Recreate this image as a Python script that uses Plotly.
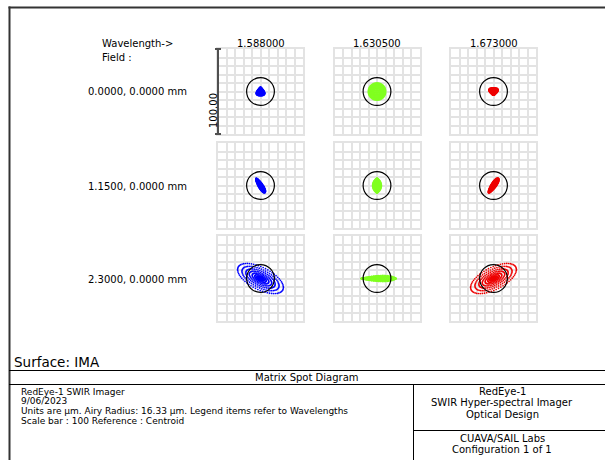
import numpy as np
import plotly.graph_objects as go

W, H = 605, 460
FONT = "DejaVu Sans"

# ---- data -----------------------------------------------------------------
WAVELENGTHS = ["1.588000", "1.630500", "1.673000"]          # µm
WAVE_COLORS = ["#0000ff", "#80ff20", "#ee0000"]
FIELDS = ["0.0000, 0.0000 mm", "1.1500, 0.0000 mm", "2.3000, 0.0000 mm"]
AIRY_RADIUS = 16.33      # µm
SCALE_BAR = 100.0        # µm, full box width
GRID_STEP = 10.0         # µm
PUPIL_RINGS = 10         # hexapolar ray rings

# spot shape per field (rows) x wavelength (columns); lengths in µm, angles in deg
SPOT_A = [[5.0, 10.2, 4.4], [9.8, 8.6, 10.2], [29.5, 20.5, 29.5]]      # semi-axis along tilt
SPOT_B = [[4.4, 10.2, 4.8], [2.7, 5.2, 3.0], [13.0, 3.4, 13.0]]        # semi-axis across tilt
SPOT_TILT = [[-90, 0, 90], [-58, 90, 56], [-27, 0, 27]]
SPOT_EGG = [[0.6, 0.0, 0.6], [0.2, 0.0, 0.2], [0.0, 0.4, 0.0]]
SPOT_COMA = [[0.0, 0.0, 0.0], [0.0, 0.0, 0.0], [0.0, 4.2, 0.0]]
SPOT_POWER = [[1.0, 0.9, 1.0], [1.0, 1.0, 1.0], [2.0, 1.0, 2.0]]
SPOT_PINCH = [[1.0, 1.0, 1.0], [1.0, 1.6, 1.0], [1.0, 1.4, 1.0]]

TITLE_LEFT = ["RedEye-1 SWIR Imager", "9/06/2023",
              "Units are µm. Airy Radius: 16.33 µm. Legend items refer to Wavelengths",
              "Scale bar : 100 Reference : Centroid"]
TITLE_RIGHT_TOP = ["RedEye-1", "SWIR Hyper-spectral Imager", "Optical Design"]
TITLE_RIGHT_BOTTOM = ["CUAVA/SAIL Labs", "Configuration 1 of 1"]

# ---- page geometry (pixels) ---------------------------------------------
COL_CX = [260.5, 377.0, 493.5]
ROW_CY = [91.5, 185.5, 278.5]
BOX = 85.0


def px(x):
    return x / W


def py(y):
    return 1 - y / H


def pupil(n):
    rho, th = [0.0], [0.0]
    for k in range(1, n + 1):
        m = 6 * k
        rho += [k / n] * m
        th += list(np.arange(m) * 2 * np.pi / m)
    return np.array(rho), np.array(th)


RHO, THETA = pupil(PUPIL_RINGS)


def spot(a, b, tilt, egg, coma, power, pinch):
    s = np.sin(THETA)
    u = a * RHO ** power * np.cos(THETA) + coma * RHO ** 2
    v = b * RHO ** power * np.sign(s) * np.abs(s) ** pinch * (1 + egg * np.cos(THETA))
    ang = np.radians(tilt)
    x = u * np.cos(ang) - v * np.sin(ang)
    y = u * np.sin(ang) + v * np.cos(ang)
    return x - x.mean(), y - y.mean()


fig = go.Figure()
layout = dict(width=W, height=H, margin=dict(l=0, r=0, t=0, b=0),
              paper_bgcolor="white", plot_bgcolor="white", showlegend=False,
              font=dict(family=FONT, size=10, color="black"))
shapes, annotations = [], []
half = SCALE_BAR / 2

k = 0
for r in range(3):
    for c in range(3):
        k += 1
        sx = "" if k == 1 else str(k)
        x0, x1 = COL_CX[c] - BOX / 2, COL_CX[c] + BOX / 2
        y0, y1 = ROW_CY[r] - BOX / 2, ROW_CY[r] + BOX / 2
        ax = dict(range=[-half, half], showgrid=True, gridcolor="#e3e3e3", gridwidth=1.6,
                  tick0=0, dtick=GRID_STEP, showticklabels=False, ticks="",
                  zeroline=False, showline=True, linecolor="#e3e3e3", linewidth=1.6,
                  mirror=True, fixedrange=True)
        layout["xaxis" + sx] = dict(ax, domain=[px(x0), px(x1)], anchor="y" + sx)
        layout["yaxis" + sx] = dict(ax, domain=[py(y1), py(y0)], anchor="x" + sx)
        xs, ys = spot(SPOT_A[r][c], SPOT_B[r][c], SPOT_TILT[r][c], SPOT_EGG[r][c],
                      SPOT_COMA[r][c], SPOT_POWER[r][c], SPOT_PINCH[r][c])
        fig.add_trace(go.Scatter(x=xs, y=ys, mode="markers", xaxis="x" + sx, yaxis="y" + sx,
                                 marker=dict(size=1.7, color=WAVE_COLORS[c], line=dict(width=0)),
                                 hoverinfo="skip"))
        shapes.append(dict(type="circle", xref="x" + sx, yref="y" + sx,
                           x0=-AIRY_RADIUS, x1=AIRY_RADIUS, y0=-AIRY_RADIUS, y1=AIRY_RADIUS,
                           line=dict(color="black", width=1.2)))

# scale bar on the first box
bx = COL_CX[0] - BOX / 2
by0, by1 = ROW_CY[0] - BOX / 2, ROW_CY[0] + BOX / 2
shapes.append(dict(type="line", xref="paper", yref="paper", x0=px(bx), x1=px(bx),
                   y0=py(by0), y1=py(by1), line=dict(color="#505050", width=2)))
for yy in (by0, by1):
    shapes.append(dict(type="line", xref="paper", yref="paper", x0=px(bx - 3), x1=px(bx + 3),
                       y0=py(yy), y1=py(yy), line=dict(color="#505050", width=2)))
annotations.append(dict(x=px(bx - 5), y=py(ROW_CY[0]), xref="paper", yref="paper",
                        text=f"{SCALE_BAR:.2f}", textangle=-90, showarrow=False,
                        font=dict(size=10)))


# frame and title block
def hline(y, xa, xb, w=1, col="black"):
    shapes.append(dict(type="line", xref="paper", yref="paper", x0=px(xa), x1=px(xb),
                       y0=py(y), y1=py(y), line=dict(color=col, width=w)))


def vline(x, ya, yb, w=1, col="black"):
    shapes.append(dict(type="line", xref="paper", yref="paper", x0=px(x), x1=px(x),
                       y0=py(ya), y1=py(yb), line=dict(color=col, width=w)))


vline(9.5, 6.5, 470, 2, "#333333")
hline(7.5, 8.5, 620, 2, "#333333")
hline(370.5, 9, 620)
hline(384.5, 9, 620)
vline(413.5, 384.5, 470)
hline(430.5, 413.5, 620)


def text(x, y, s, size=10, anchor="left"):
    annotations.append(dict(x=px(x), y=py(y), xref="paper", yref="paper", text=s,
                            showarrow=False, xanchor=anchor, yanchor="middle",
                            font=dict(size=size)))


text(100, 43, "Wavelength->")
text(100, 57, "Field :")
for c, wl in enumerate(WAVELENGTHS):
    text(COL_CX[c], 43, wl, anchor="center")
for r, fl in enumerate(FIELDS):
    text(86, ROW_CY[r] + 0.5, fl)

text(12, 362, "Surface: IMA", size=13.5)
text(307, 377.5, "Matrix Spot Diagram", anchor="center")
for i, s in enumerate(TITLE_LEFT):
    text(19, 391.5 + 9.8 * i, s, size=9)
for i, s in enumerate(TITLE_RIGHT_TOP):
    text(502, 391.5 + 11.3 * i, s, anchor="center")
for i, s in enumerate(TITLE_RIGHT_BOTTOM):
    text(502, 438 + 11.5 * i, s, anchor="center")

layout["shapes"] = shapes
layout["annotations"] = annotations
fig.update_layout(**layout)
fig.write_html("out.html")
